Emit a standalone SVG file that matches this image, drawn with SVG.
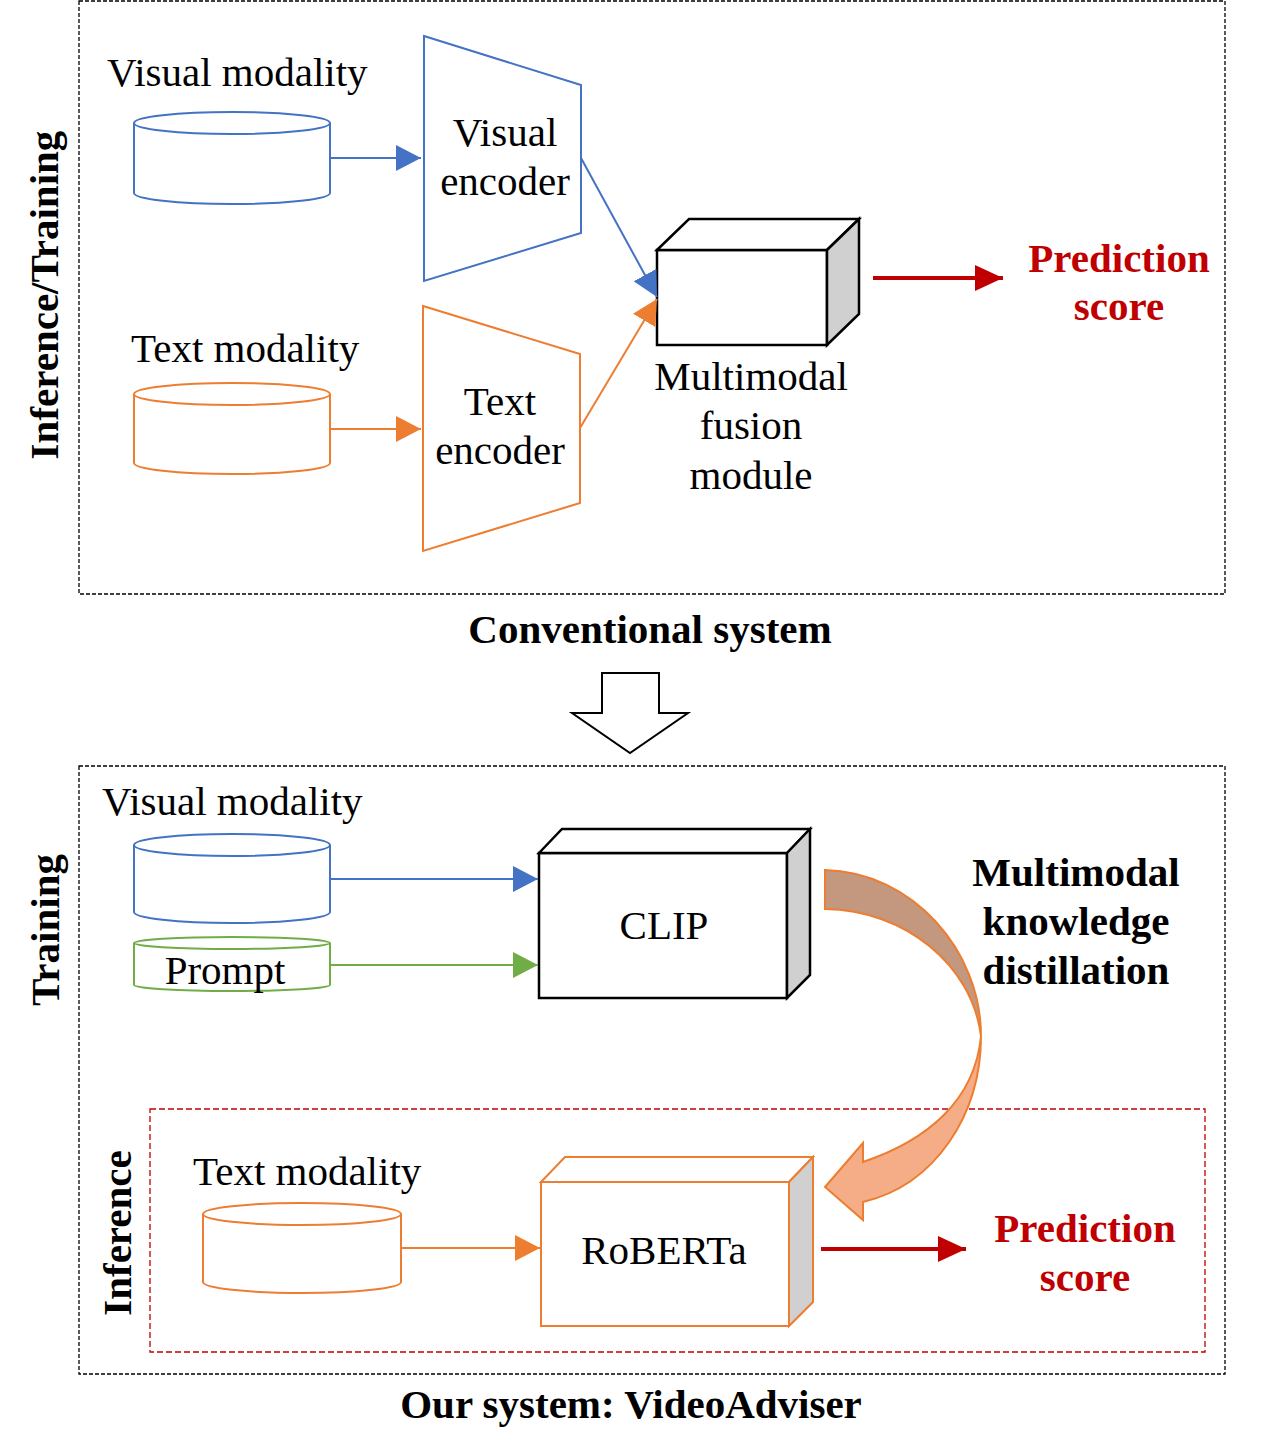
<svg xmlns="http://www.w3.org/2000/svg" width="1267" height="1454" viewBox="0 0 1267 1454">
<style>
text{font-family:"Liberation Serif","Times New Roman",serif;font-size:41px;fill:#000}
.b{font-weight:bold}
.red{fill:#C00000}
.mid{text-anchor:middle}
.frame{fill:none;stroke:#000;stroke-width:1.3;stroke-dasharray:4 2}
.rframe{fill:none;stroke:#C00000;stroke-width:1.3;stroke-dasharray:6 3}
.blue{fill:#fff;stroke:#4472C4;stroke-width:2}
.orange{fill:#fff;stroke:#ED7D31;stroke-width:2}
.green{fill:#fff;stroke:#70AD47;stroke-width:2}
.cube{stroke:#000;stroke-width:2.5;stroke-linejoin:miter}
.ocube{stroke:#ED7D31;stroke-width:2}
.side{fill:#D0D0D0}
.face{fill:#fff}
.lb{stroke:#4472C4;stroke-width:2;fill:none}
.lo{stroke:#ED7D31;stroke-width:2;fill:none}
.lg{stroke:#70AD47;stroke-width:2;fill:none}
.lr{stroke:#C00000;stroke-width:4;fill:none}
</style>
<defs>
<marker id="ab" markerUnits="userSpaceOnUse" markerWidth="26" markerHeight="26" refX="25" refY="13" orient="auto"><path d="M0,0 L25,13 L0,26 Z" fill="#4472C4"/></marker>
<marker id="ao" markerUnits="userSpaceOnUse" markerWidth="26" markerHeight="26" refX="25" refY="13" orient="auto"><path d="M0,0 L25,13 L0,26 Z" fill="#ED7D31"/></marker>
<marker id="ag" markerUnits="userSpaceOnUse" markerWidth="26" markerHeight="26" refX="25" refY="13" orient="auto"><path d="M0,0 L25,13 L0,26 Z" fill="#70AD47"/></marker>
<marker id="ar" markerUnits="userSpaceOnUse" markerWidth="30" markerHeight="28" refX="28" refY="13" orient="auto"><path d="M0,0 L28,13 L0,26 Z" fill="#C00000"/></marker>
</defs>
<rect width="1267" height="1454" fill="#fff"/>

<g id="frames">
<rect class="frame" x="79" y="1" width="1146" height="593"/>
<rect class="frame" x="79" y="766" width="1146" height="608"/>
<rect class="rframe" x="150" y="1109" width="1055" height="243"/>
</g>

<g id="labels">
<text class="b" transform="translate(58,295) rotate(-90)" text-anchor="middle">Inference/Training</text>
<text class="b" transform="translate(59,930) rotate(-90)" text-anchor="middle">Training</text>
<text class="b" transform="translate(131,1233) rotate(-90)" text-anchor="middle">Inference</text>
<text class="b mid" x="650" y="643">Conventional system</text>
<text class="b mid" x="631" y="1418">Our system: VideoAdviser</text>
</g>

<g id="visual-top">
<text x="107" y="86">Visual modality</text>
<path class="blue" d="M134,123 L134,193 A98,11 0 0 0 330,193 L330,123"/>
<ellipse class="blue" cx="232" cy="123" rx="98" ry="11"/>
</g>
<g id="text-top">
<text x="131" y="362">Text modality</text>
<path class="orange" d="M134,394 L134,463 A98,11 0 0 0 330,463 L330,394"/>
<ellipse class="orange" cx="232" cy="394" rx="98" ry="11"/>
</g>
<g id="visual-encoder">
<polygon class="blue" points="424,36 581,85 581,233 424,281"/>
<text class="mid" x="505" y="146">Visual</text>
<text class="mid" x="505" y="195">encoder</text>
</g>
<g id="text-encoder">
<polygon class="orange" points="423,306 580,354 580,503 423,551"/>
<text class="mid" x="500" y="415">Text</text>
<text class="mid" x="500" y="464">encoder</text>
</g>
<g id="fusion">
<rect class="cube face" x="657" y="250" width="170" height="95"/>
<polygon class="cube face" points="657,250 689,219 859,219 827,250"/>
<polygon class="cube side" points="827,250 859,219 859,314 827,345"/>
<text class="mid" x="751" y="390">Multimodal</text>
<text class="mid" x="751" y="439">fusion</text>
<text class="mid" x="751" y="489">module</text>
</g>
<g id="pred-top">
<text class="b red mid" x="1119" y="272">Prediction</text>
<text class="b red mid" x="1119" y="320">score</text>
</g>

<g id="down-arrow">
<polygon points="602,673 659,673 659,713 688,713 630,753 572,713 602,713" fill="#fff" stroke="#000" stroke-width="2"/>
</g>

<g id="visual-bottom">
<text x="102" y="815">Visual modality</text>
<path class="blue" d="M134,845 L134,912 A98,11 0 0 0 330,912 L330,845"/>
<ellipse class="blue" cx="232" cy="845" rx="98" ry="11"/>
</g>
<g id="prompt">
<path class="green" d="M134,943 L134,985 A98,6 0 0 0 330,985 L330,943"/>
<ellipse class="green" cx="232" cy="943" rx="98" ry="6"/>
<text class="mid" x="225" y="984">Prompt</text>
</g>
<g id="clip">
<rect class="cube face" x="539" y="853" width="248" height="145"/>
<polygon class="cube face" points="539,853 562,829 810,829 787,853"/>
<polygon class="cube side" points="787,853 810,829 810,975 787,998"/>
<text class="mid" x="664" y="939">CLIP</text>
</g>
<g id="kd-label">
<text class="b mid" x="1076" y="886">Multimodal</text>
<text class="b mid" x="1076" y="935">knowledge</text>
<text class="b mid" x="1076" y="984">distillation</text>
</g>
<g id="text-bottom">
<text x="193" y="1185">Text modality</text>
<path class="orange" d="M203,1214 L203,1282 A99,11 0 0 0 401,1282 L401,1214"/>
<ellipse class="orange" cx="302" cy="1214" rx="99" ry="11"/>
</g>
<g id="roberta">
<rect class="ocube face" x="541" y="1182" width="248" height="144"/>
<polygon class="ocube face" points="541,1182 565,1157 813,1157 789,1182"/>
<polygon class="ocube side" points="789,1182 813,1157 813,1302 789,1326"/>
<text class="mid" x="664" y="1264">RoBERTa</text>
</g>
<g id="pred-bottom">
<text class="b red mid" x="1085" y="1242">Prediction</text>
<text class="b red mid" x="1085" y="1291">score</text>
</g>

<g id="connectors">
<line class="lb" x1="330" y1="158" x2="421" y2="158" marker-end="url(#ab)"/>
<line class="lo" x1="330" y1="429" x2="421" y2="429" marker-end="url(#ao)"/>
<line class="lb" x1="581" y1="158" x2="657" y2="297" marker-end="url(#ab)"/>
<line class="lo" x1="580" y1="428" x2="657" y2="299" marker-end="url(#ao)"/>
<line class="lr" x1="873" y1="278" x2="1003" y2="278" marker-end="url(#ar)"/>
<line class="lb" x1="330" y1="879" x2="538" y2="879" marker-end="url(#ab)"/>
<line class="lg" x1="330" y1="965" x2="538" y2="965" marker-end="url(#ag)"/>
<line class="lo" x1="401" y1="1248" x2="540" y2="1248" marker-end="url(#ao)"/>
<line class="lr" x1="821" y1="1249" x2="966" y2="1249" marker-end="url(#ar)"/>
<path d="M825,870 C912,872 981,950 981,1036 C972,965 905,910 825,909 Z" fill="#C4977F" stroke="#ED7D31" stroke-width="2"/>
<path d="M981,1036 C981,1115 935,1185 863,1202 L863,1220 L825,1187 L863,1143 L863,1162 C928,1140 975,1100 981,1036 Z" fill="#F4AD87" stroke="#ED7D31" stroke-width="2"/>
</g>
</svg>
